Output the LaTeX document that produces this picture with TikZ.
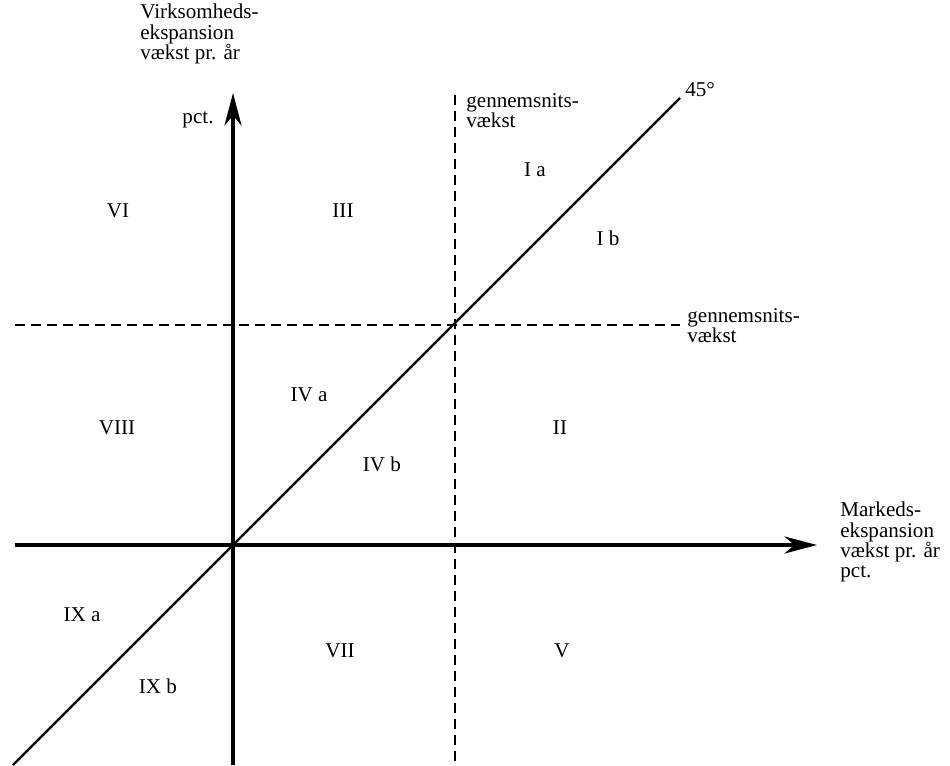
\documentclass[tikz,border=0pt]{standalone}
\usepackage{fontspec}
\setmainfont{Liberation Serif}
\usetikzlibrary{arrows.meta, positioning}

\begin{document}
\begin{tikzpicture}[x=0.02cm, y=-0.02cm,
  every node/.style={font=\fontsize{12}{11.5}\selectfont, inner sep=0pt, align=left},
  axis/.style={line width=2.1pt, -{Stealth[length=0.65cm, width=0.34cm, inset=0.2cm]}},
  avg/.style={line width=1.2pt, dash pattern=on 0.2cm off 0.12cm},
  diag/.style={line width=1.3pt},
  region/.style={anchor=center}]
\useasboundingbox (0,0) rectangle (950,765);

% Axes
\coordinate (O) at (233,545);
\coordinate (xstart) at (15,545);
\coordinate (xend) at (817,545);
\coordinate (ystart) at (233,765);
\coordinate (yend) at (233,93);
\draw[axis] (xstart) -- (xend);
\draw[axis] (ystart) -- (yend);

% Average growth lines
\coordinate (avgVtop) at (455,95);
\coordinate (avgVbot) at (455,765);
\coordinate (avgHleft) at (15,325);
\coordinate (avgHright) at (680,325);
\draw[avg] (avgVtop) -- (avgVbot);
\draw[avg] (avgHleft) -- (avgHright);

% 45 degree line
\coordinate (diagstart) at (13,765);
\coordinate (diagend) at (680,98);
\draw[diag] (diagstart) -- (diagend);

% Axis and line labels
\node (ylabel) [anchor=north west] at (140,4) {Virksomheds-\\ekspansion\\vækst pr. år};
\node (ypct) at (198,120) {pct.};
\node (xlabel) [anchor=north west] at (840,502) {Markeds-\\ekspansion\\vækst pr. år\\pct.};
\node (avgVlabel) [anchor=north west] at (466,93) {gennemsnits-\\vækst};
\node (avgHlabel) [anchor=north west] at (687,308) {gennemsnits-\\vækst};
\node (angle) [anchor=south west] at (685,97) {45°};

% Regions
\node (Ia) [region] at (535,170) {I a};
\node (Ib) [region] at (608,238) {I b};
\node (VI) [region] at (118,211) {VI};
\node (III) [region] at (343,211) {III};
\node (IVa) [region] at (309,395) {IV a};
\node (IVb) [region] at (382,464) {IV b};
\node (VIII) [region] at (117,428) {VIII};
\node (II) [region] at (560,428) {II};
\node (IXa) [region] at (82,615) {IX a};
\node (IXb) [region] at (158,686) {IX b};
\node (VII) [region] at (340,651) {VII};
\node (V) [region] at (562,651) {V};
\end{tikzpicture}
\end{document}
